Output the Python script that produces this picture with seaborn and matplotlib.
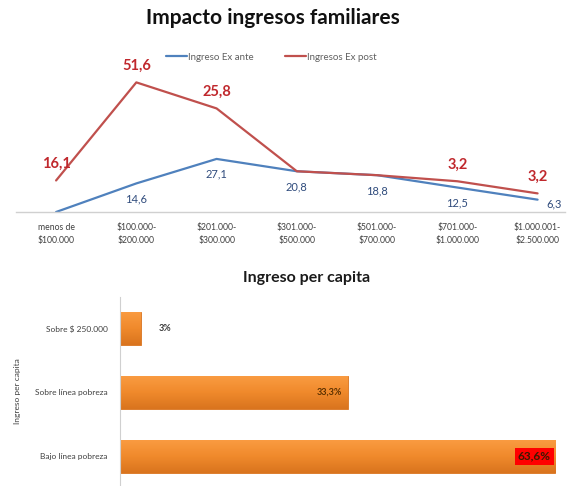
import numpy as np
import pandas as pd
import matplotlib
matplotlib.use("Agg")
import matplotlib.pyplot as plt
from matplotlib.colors import LinearSegmentedColormap
import seaborn as sns

sns.set_style("white")
plt.rcParams['font.family'] = ['Lato', 'DejaVu Sans']

# ---- datos: impacto ingresos familiares ----
tramos = ["menos de\n$100.000", "$100.000-\n$200.000", "$201.000-\n$300.000",
          "$301.000-\n$500.000", "$501.000-\n$700.000", "$701.000-\n$1.000.000",
          "$1.000.001-\n$2.500.000"]
ex_ante = [0, 14.6, 27.1, 20.8, 18.8, 12.5, 6.3]
ex_post = [16.1, 51.6, 25.8, 0, 0, 3.2, 3.2]

# ---- datos: ingreso per capita ----
grupos = ["Sobre $ 250.000", "Sobre línea pobreza", "Bajo línea pobreza"]
porcentajes = [3.0, 33.3, 63.6]
etiquetas_pc = ["3%", "33,3%", "63,6%"]

AZUL = "#4F81BD"
ROJO = "#C0504D"
NARANJA = "#F08A2C"

fig = plt.figure(figsize=(5.7, 4.86), dpi=100)

# =========== grafico de lineas (apilado) ===========
ax1 = fig.add_axes([0.028, 0.5638, 0.963, 0.282])
x = np.arange(len(tramos))
ante = np.array(ex_ante)
post_apilado = ante + np.array(ex_post)

sns.lineplot(x=x, y=ante, ax=ax1, color=AZUL, lw=1.6, label="Ingreso Ex ante")
sns.lineplot(x=x, y=post_apilado, ax=ax1, color=ROJO, lw=1.6, label="Ingresos Ex post")

for i, v in enumerate(ex_ante):
    if v == 0:
        continue
    off = (12, -3) if i == len(ex_ante) - 1 else (0, -11)
    ax1.annotate(f"{v:.1f}".replace(".", ","), (x[i], ante[i]), xytext=off,
                 textcoords="offset points", ha="center", va="center",
                 fontsize=8, color="#2F4B7C")
for i, v in enumerate(ex_post):
    if v == 0:
        continue
    ax1.annotate(f"{v:.1f}".replace(".", ","), (x[i], post_apilado[i]), xytext=(0, 12),
                 textcoords="offset points", ha="center", va="center",
                 fontsize=10.5, fontweight="bold", color="#C0282D")

ax1.set_xlim(-0.5, 6.34)
ax1.set_ylim(0, 70)
ax1.set_xticks(x)
ax1.set_xticklabels(tramos, fontsize=6.2, color="#404040", linespacing=1.6)
ax1.set_yticks([])
ax1.tick_params(axis="x", length=0, pad=8)
for s in ["top", "right", "left"]:
    ax1.spines[s].set_visible(False)
ax1.spines["bottom"].set_color("#D0D0D0")
ax1.spines["bottom"].set_linewidth(1)
ax1.set_xlabel("")
ax1.legend(loc="center", bbox_to_anchor=(0.465, 1.13), ncol=2, frameon=False,
           fontsize=7, handlelength=2.2, handletextpad=0.1, columnspacing=3.2,
           labelcolor="#606060")

fig.text(0.478, 0.962, "Impacto ingresos familiares", ha="center", va="center",
         fontsize=15, fontweight="bold", color="#111111")

# =========== grafico de barras ===========
ax2 = fig.add_axes([0.2105, 0.0, 0.78, 0.389])
df_pc = pd.DataFrame({"grupo": grupos, "pct": porcentajes})
sns.barplot(data=df_pc, y="grupo", x="pct", ax=ax2, color=NARANJA, width=0.52,
            saturation=1, edgecolor="#D9731F", linewidth=0.6)

# degradado vertical tipo Excel en cada barra
grad = LinearSegmentedColormap.from_list("nar", ["#FA9C42", "#F08A2C", "#D9741E"])
for p in list(ax2.patches):
    x0, y0 = p.get_x(), p.get_y()
    w, h = p.get_width(), p.get_height()
    im = ax2.imshow(np.linspace(0, 1, 64).reshape(-1, 1), cmap=grad, aspect="auto",
                    extent=(x0, x0 + w, y0 + h, y0), zorder=p.get_zorder() + 0.1)
    im.set_clip_path(p)

for i, (v, t) in enumerate(zip(porcentajes, etiquetas_pc)):
    if i == 0:
        ax2.text(v + 2.7, i, t, ha="left", va="center", fontsize=6.5,
                 fontweight="bold", color="#3A3A3A", zorder=5)
    elif i == 2:
        ax2.text(v - 0.6, i, t, ha="right", va="center", fontsize=8.5,
                 fontweight="bold", color="#3A1A00", zorder=5,
                 bbox=dict(boxstyle="square,pad=0.25", fc="#FF0000", ec="none"))
    else:
        ax2.text(v - 0.8, i, t, ha="right", va="center", fontsize=6.5,
                 fontweight="bold", color="#5A3000", zorder=5)

ax2.set_xlim(0, 65)
ax2.set_ylim(2.47, -0.5)
ax2.set_xticks([])
ax2.set_xlabel("")
ax2.set_ylabel("Ingreso per capita", fontsize=6, color="#404040", labelpad=10)
ax2.tick_params(axis="y", length=0, pad=9, labelsize=6, labelcolor="#404040")
for s in ["top", "right", "bottom"]:
    ax2.spines[s].set_visible(False)
ax2.spines["left"].set_color("#D0D0D0")

fig.text(0.538, 0.428, "Ingreso per capita", ha="center", va="center",
         fontsize=11.5, fontweight="bold", color="#1A1A1A")

fig.savefig("out.png", dpi=100)
